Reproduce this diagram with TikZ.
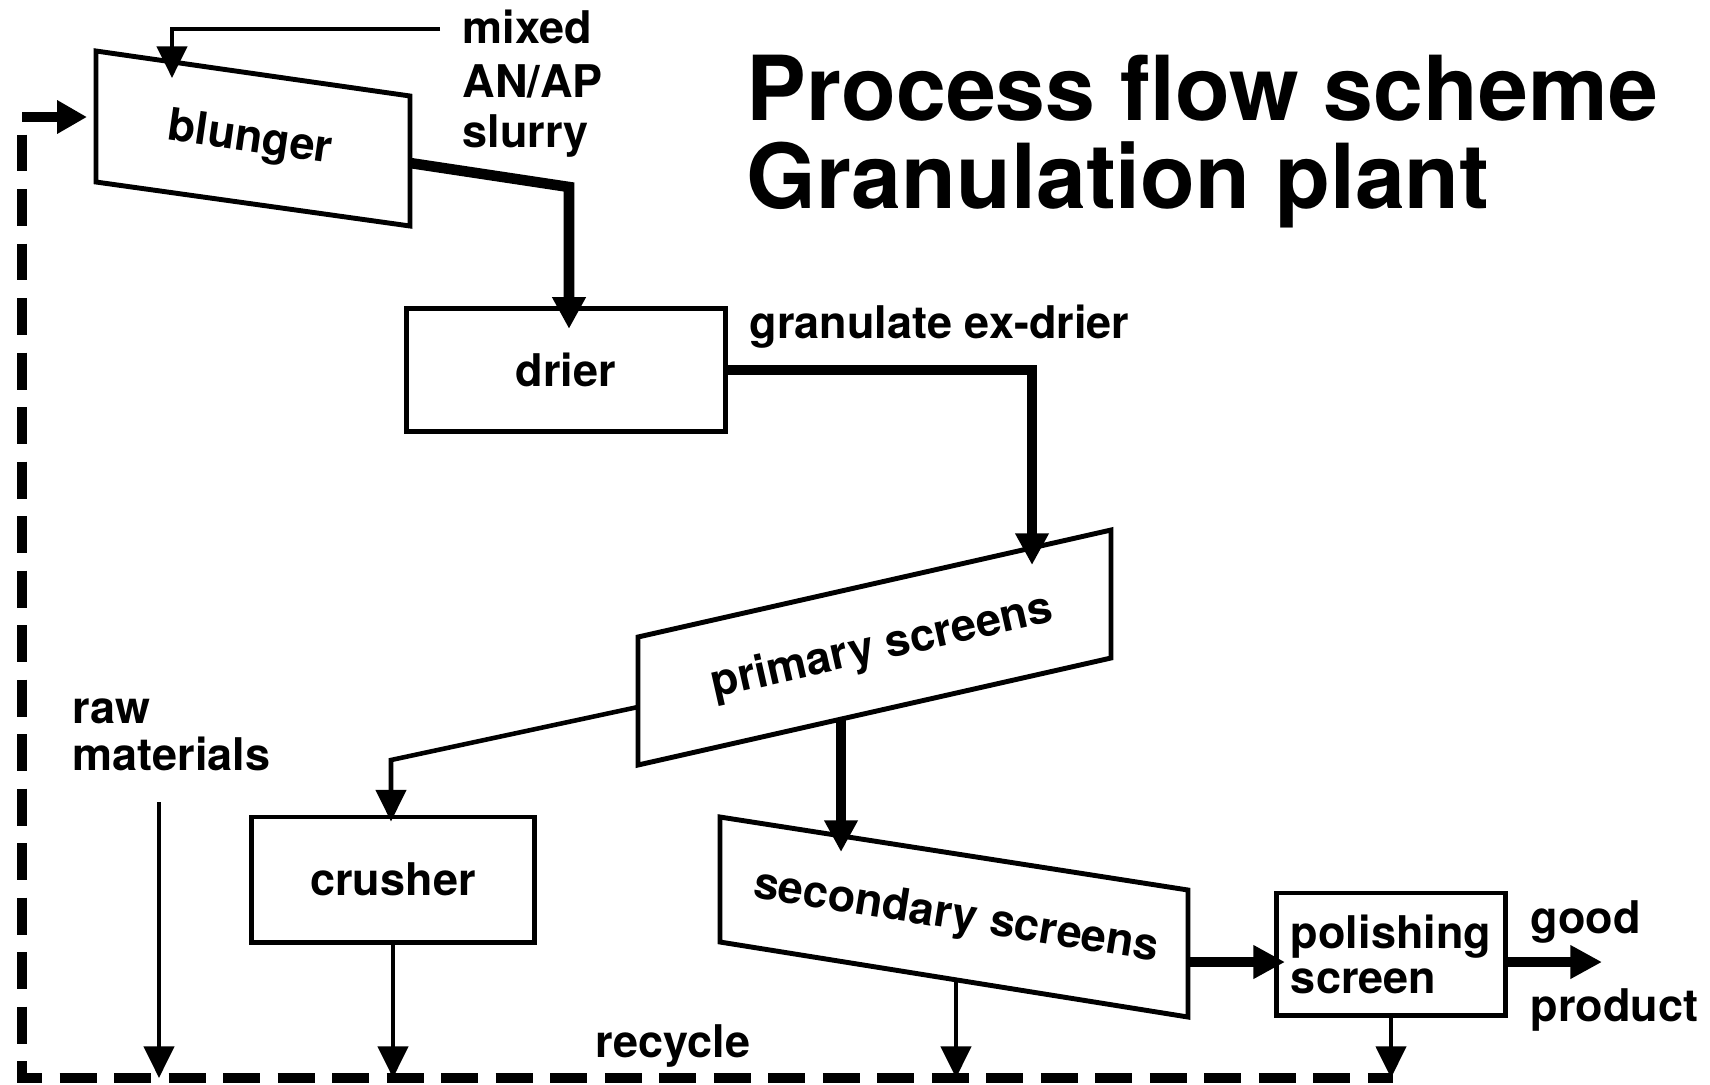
\documentclass[tikz,border=0pt]{standalone}
\usepackage{fontspec}
\setmainfont{TeX Gyre Heros}
\usetikzlibrary{arrows.meta}

\begin{document}
\begin{tikzpicture}[x=0.01cm,y=-0.01cm]
	\tikzstyle{wall}=[draw=black,line width=1.4pt]
	\tikzstyle{txt}=[inner sep=0pt,font=\bfseries\fontsize{12.8}{12.8}\selectfont]
	\tikzstyle{unit}=[wall,txt]
	\tikzstyle{lbl}=[txt,anchor=base west]
	\tikzstyle{head}=[inner sep=0pt,anchor=base west,font=\bfseries\fontsize{25.5}{25.5}\selectfont]
	\tikzstyle{flow}=[line width=1.3pt,-{Triangle[length=9pt,width=8.5pt]}]
	\tikzstyle{main}=[line width=3pt,-{Triangle[length=9pt,width=9pt]}]
	\tikzstyle{recycle}=[line width=2.8pt,dash pattern=on 10.5pt off 5pt,{Triangle[length=8.5pt,width=9pt]}-]
	\useasboundingbox (0,0) rectangle (1710,1084);
	% title
	\node[head] (title) at (746,120) {Process flow scheme};
	\node[head] (subtitle) at (746,208) {Granulation plant};
	% units
	\draw[wall] (96,51) -- (410,96) -- (410,226) -- (96,182) -- cycle;
	\node[txt,rotate=-8.1] (blunger) at (250,140) {blunger};
	\node[unit,minimum width=3.19cm,minimum height=1.23cm] (drier) at (566,370) {drier};
	\draw[wall] (638,637) -- (1111,530) -- (1111,658) -- (638,765) -- cycle;
	\node[txt,rotate=12.7] (primary) at (882,648) {primary screens};
	\node[unit,minimum width=2.82cm,minimum height=1.25cm] (crusher) at (393,879.5) {crusher};
	\draw[wall] (720,817) -- (1188,890) -- (1188,1017) -- (720,942) -- cycle;
	\node[txt,rotate=-8.9] (secondary) at (956,918) {secondary screens};
	\node[unit,minimum width=2.28cm,minimum height=1.22cm,align=left] (polishing) at (1391,954) {polishing\\screen};
	% labels
	\node[lbl] (mixedA) at (462,43) {mixed};
	\node[lbl] (mixedB) at (462,97) {AN/AP};
	\node[lbl] (mixedC) at (462,147) {slurry};
	\node[lbl] (exdrier) at (749,338) {granulate ex-drier};
	\node[lbl] (rawA) at (72,723) {raw};
	\node[lbl] (rawB) at (72,770) {materials};
	\node[lbl] (recyclelbl) at (595,1057) {recycle};
	\node[lbl] (goodA) at (1530,933) {good};
	\node[lbl] (goodB) at (1530,1021) {product};
	% connection points
	\coordinate (slurryEnd) at (440,29);
	\coordinate (blTop) at (172,78);
	\coordinate (blOut) at (410,163);
	\coordinate (blBend) at (569,187);
	\coordinate (blLeft) at (87,117);
	\coordinate (psTop) at (1032,565);
	\coordinate (psLeft) at (638,707);
	\coordinate (crBend) at (391,760);
	\coordinate (psBot) at (841,719);
	\coordinate (ssTop) at (841,852);
	\coordinate (ssRight) at (1188,962);
	\coordinate (ssBot) at (956,979);
	\coordinate (goodEnd) at (1602,962);
	\coordinate (rawTop) at (159,802);
	\coordinate (rcLine) at (1393,1078);
	\coordinate (rcCorner) at (22,117);
	% flows
	\draw[flow] (slurryEnd) -| (blTop);
	\draw[main,shorten >=-6.5pt] (blOut) -- (blBend) -- (blBend |- drier.north);
	\draw[main] (drier.east) -| (psTop);
	\draw[flow,shorten >=-2pt] (psLeft) -- (crBend) -- (crBend |- crusher.north);
	\draw[main] (psBot) -- (ssTop);
	\draw[main,shorten >=-3pt] (ssRight) -- (ssRight -| polishing.west);
	\draw[main] (polishing.east |- goodEnd) -- (goodEnd);
	\draw[flow] (rawTop) -- (rawTop |- rcLine);
	\draw[flow] (crusher.south) -- (crusher.south |- rcLine);
	\draw[flow] (ssBot) -- (ssBot |- rcLine);
	\draw[flow] (polishing.south) -- (polishing.south |- rcLine);
	\draw[recycle] (blLeft) -- (rcCorner) |- (rcLine);
\end{tikzpicture}
\end{document}
